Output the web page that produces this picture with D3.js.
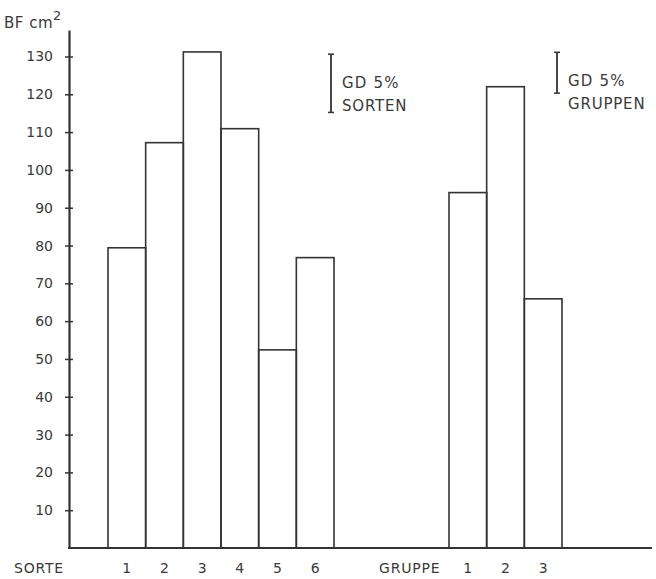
<!DOCTYPE html>
<html lang="en">
<head>
  <meta charset="UTF-8">
  <title>BF cm2 Sorten / Gruppen</title>
  <script src="https://d3js.org/d3.v7.min.js"></script>
  <style>
    body { margin: 0; background: #fff; }
    text { font-family: "DejaVu Sans", sans-serif; fill: #3a3a3a; }
  </style>
</head>
<body>
  <div id="chart"></div>
  <script>
    const sorten = ["1", "2", "3", "4", "5", "6"];
    const sortenValues = [79.4, 107.2, 131.2, 110.9, 52.4, 76.8];
    const gruppen = ["1", "2", "3"];
    const gruppenValues = [94.0, 122.0, 65.9];
    const yTicks = [10, 20, 30, 40, 50, 60, 70, 80, 90, 100, 110, 120, 130];
    const gdSorten = 15.4;
    const gdGruppen = 10.8;

    const width = 656;
    const height = 579;
    const ink = "#333";

    const svg = d3.select("#chart")
      .append("svg")
      .attr("width", width)
      .attr("height", height);

    const y = d3.scaleLinear().domain([0, 137]).range([548, 30]);
    const xS = d3.scaleBand().domain(sorten).range([108, 334]);
    const xG = d3.scaleBand().domain(gruppen).range([449, 562]);

    // bars
    svg.selectAll(".sorte")
      .data(sortenValues)
      .enter()
      .append("rect")
      .attr("class", "sorte")
      .attr("x", (d, i) => xS(sorten[i]))
      .attr("y", d => y(d))
      .attr("width", xS.bandwidth())
      .attr("height", d => y(0) - y(d))
      .attr("fill", "none")
      .attr("stroke", ink)
      .attr("stroke-width", 1.6);

    svg.selectAll(".gruppe")
      .data(gruppenValues)
      .enter()
      .append("rect")
      .attr("class", "gruppe")
      .attr("x", (d, i) => xG(gruppen[i]))
      .attr("y", d => y(d))
      .attr("width", xG.bandwidth())
      .attr("height", d => y(0) - y(d))
      .attr("fill", "none")
      .attr("stroke", ink)
      .attr("stroke-width", 1.6);

    // y axis
    const yAxis = svg.append("g")
      .attr("transform", "translate(69,0)")
      .call(d3.axisLeft(y).tickValues(yTicks).tickSize(4).tickSizeOuter(0));
    yAxis.select(".domain").attr("stroke", ink).attr("stroke-width", 2.2);
    yAxis.selectAll(".tick line").attr("x1", -4).attr("x2", 4)
      .attr("stroke", ink).attr("stroke-width", 1.5);
    yAxis.selectAll(".tick text")
      .attr("x", -16)
      .style("font-size", "14px")
      .style("font-family", "DejaVu Sans, sans-serif")
      .attr("fill", "#3a3a3a");

    // baseline
    svg.append("line")
      .attr("x1", 68).attr("x2", 652)
      .attr("y1", y(0)).attr("y2", y(0))
      .attr("stroke", ink).attr("stroke-width", 2.2);

    // y label
    const lab = svg.append("text").attr("x", 4).attr("y", 28)
      .style("font-size", "15px").style("letter-spacing", "0.5px");
    lab.append("tspan").text("BF cm");
    lab.append("tspan").attr("dy", -8).style("font-size", "13px").text("2");

    // x labels
    const lblStyle = sel => sel.style("font-size", "14px").style("letter-spacing", "0.8px");
    svg.selectAll(".sl")
      .data(sorten)
      .enter()
      .append("text")
      .attr("x", d => xS(d) + xS.bandwidth() / 2)
      .attr("y", 573)
      .attr("text-anchor", "middle")
      .style("font-size", "14px")
      .text(d => d);
    svg.selectAll(".gl")
      .data(gruppen)
      .enter()
      .append("text")
      .attr("x", d => xG(d) + xG.bandwidth() / 2)
      .attr("y", 573)
      .attr("text-anchor", "middle")
      .style("font-size", "14px")
      .text(d => d);
    svg.append("text").attr("x", 14).attr("y", 573).call(lblStyle).text("SORTE");
    svg.append("text").attr("x", 379).attr("y", 573).call(lblStyle).text("GRUPPE");

    // GD 5% bars
    function gdBar(x, top, len, line2) {
      const g = svg.append("g");
      const y0 = y(top), y1 = y(top - len);
      g.append("line").attr("x1", x).attr("x2", x).attr("y1", y0).attr("y2", y1)
        .attr("stroke", ink).attr("stroke-width", 1.8);
      [y0, y1].forEach(v => g.append("line")
        .attr("x1", x - 3).attr("x2", x + 3).attr("y1", v).attr("y2", v)
        .attr("stroke", ink).attr("stroke-width", 1.5));
      g.append("text").attr("x", x + 11).attr("y", y0 + 34)
        .style("font-size", "15px").style("letter-spacing", "1.2px").text("GD 5%");
      g.append("text").attr("x", x + 11).attr("y", y0 + 57)
        .style("font-size", "15px").style("letter-spacing", "0.8px").text(line2);
    }
    gdBar(331, 130.6, gdSorten, "SORTEN");
    gdBar(557, 131.1, gdGruppen, "GRUPPEN");
  </script>
</body>
</html>
